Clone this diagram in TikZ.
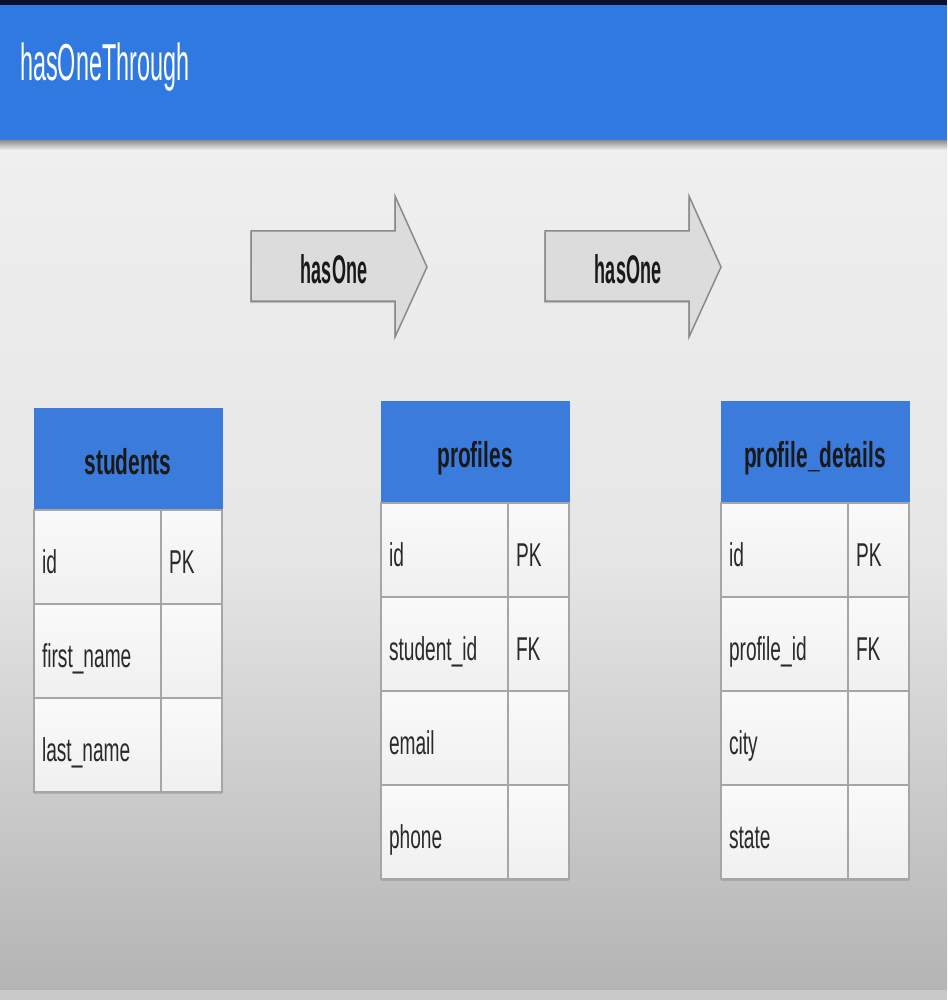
\documentclass[tikz,border=0pt]{standalone}
\usepackage{fontspec}
\usepackage{graphicx}
\setmainfont{Liberation Sans}
\usetikzlibrary{shadows}
\definecolor{navy}{HTML}{0B1030}
\definecolor{banner}{HTML}{3079E0}
\definecolor{hdrblue}{HTML}{3A7BDB}
\definecolor{bgtop}{HTML}{EFEFEF}
\definecolor{bgmid}{HTML}{E6E6E6}
\definecolor{bgbot}{HTML}{B4B4B4}
\definecolor{cellline}{HTML}{A6A6A6}
\definecolor{celltxt}{HTML}{2A2A2A}
\definecolor{arrfill}{HTML}{DCDCDC}
\definecolor{arrline}{HTML}{8A8A8A}
\newcommand\sx[2][0.58]{\scalebox{#1}[1]{#2}}
\tikzset{
  hdr/.style={draw=hdrblue, fill=hdrblue, line width=1pt, outer sep=0pt,
    minimum width=188pt, minimum height=102pt, anchor=north west,
    font=\fontsize{36}{40}\selectfont\bfseries, text=black!90,
    text height=30pt, text depth=0pt,
    drop shadow={shadow xshift=0pt, shadow yshift=-2pt, opacity=0.35}},
  cellbase/.style={draw=cellline, line width=1.2pt, outer sep=0pt,
    top color=white!98!black, bottom color=white!94!black,
    minimum height=94pt, anchor=north west,
    font=\fontsize{33}{36}\selectfont, text=celltxt,
    text height=33pt, text depth=0pt, inner xsep=8pt, align=left,
    drop shadow={shadow xshift=0pt, shadow yshift=-2pt, opacity=0.35}},
  namec/.style={cellbase, text width=111pt, minimum width=127pt},
  keyc/.style={cellbase, text width=45pt, minimum width=61pt},
  arrowshape/.style={draw=arrline, line width=1.5pt, fill=arrfill,
    drop shadow={shadow xshift=-1pt, shadow yshift=-2pt, opacity=0.4}},
  arrtext/.style={font=\fontsize{40}{44}\selectfont\bfseries, text=black!90, anchor=base},
}
\begin{document}
\begin{tikzpicture}[x=1pt,y=-1pt]
\useasboundingbox (0,0) rectangle (947,1000);
% background
\fill[bgtop] (0,0) rectangle (947,1000);
\shade[top color=bgtop, bottom color=bgmid] (0,147) rectangle (947,560);
\shade[top color=bgmid, bottom color=bgbot] (0,560) rectangle (947,990);
\fill[black!21] (0,990) rectangle (947,1000);
% banner
\shade[top color=black!45, bottom color=bgtop] (0,140) rectangle (947,150);
\fill[banner] (0,5) rectangle (947,140);
\fill[navy] (0,0) rectangle (947,5);
\node[anchor=base west, inner sep=0pt, text=white,
  font=\fontsize{52}{56}\selectfont] (title) at (20,81) {\sx[0.45]{hasOneThrough}};
% arrows
\draw[arrowshape] (251,231) -- (395,231) -- (395,196) -- (427,267) -- (395,337) -- (395,301) -- (251,301) -- cycle;
\node[arrtext] (arr1) at (334,283) {\sx[0.45]{hasOne}};
\draw[arrowshape] (545,231) -- (689,231) -- (689,196) -- (721,267) -- (689,337) -- (689,301) -- (545,301) -- cycle;
\node[arrtext] (arr2) at (628,283) {\sx[0.45]{hasOne}};
% students
\node[hdr] (stu) at (34,408) {\sx{students}};
\node[namec] (stu1n) at (stu.south west) {\sx{id}};
\node[keyc] (stu1k) at (stu1n.north east) {\sx{PK}};
\node[namec] (stu2n) at (stu1n.south west) {\sx{first\_name}};
\node[keyc] (stu2k) at (stu2n.north east) {};
\node[namec] (stu3n) at (stu2n.south west) {\sx{last\_name}};
\node[keyc] (stu3k) at (stu3n.north east) {};
% profiles
\node[hdr] (pro) at (381,401) {\sx{profiles}};
\node[namec] (pro1n) at (pro.south west) {\sx{id}};
\node[keyc] (pro1k) at (pro1n.north east) {\sx{PK}};
\node[namec] (pro2n) at (pro1n.south west) {\sx{student\_id}};
\node[keyc] (pro2k) at (pro2n.north east) {\sx{FK}};
\node[namec] (pro3n) at (pro2n.south west) {\sx{email}};
\node[keyc] (pro3k) at (pro3n.north east) {};
\node[namec] (pro4n) at (pro3n.south west) {\sx{phone}};
\node[keyc] (pro4k) at (pro4n.north east) {};
% profile_details
\node[hdr] (det) at (721,401) {\sx{profile\_details}};
\node[namec] (det1n) at (det.south west) {\sx{id}};
\node[keyc] (det1k) at (det1n.north east) {\sx{PK}};
\node[namec] (det2n) at (det1n.south west) {\sx{profile\_id}};
\node[keyc] (det2k) at (det2n.north east) {\sx{FK}};
\node[namec] (det3n) at (det2n.south west) {\sx{city}};
\node[keyc] (det3k) at (det3n.north east) {};
\node[namec] (det4n) at (det3n.south west) {\sx{state}};
\node[keyc] (det4k) at (det4n.north east) {};
\end{tikzpicture}
\end{document}
